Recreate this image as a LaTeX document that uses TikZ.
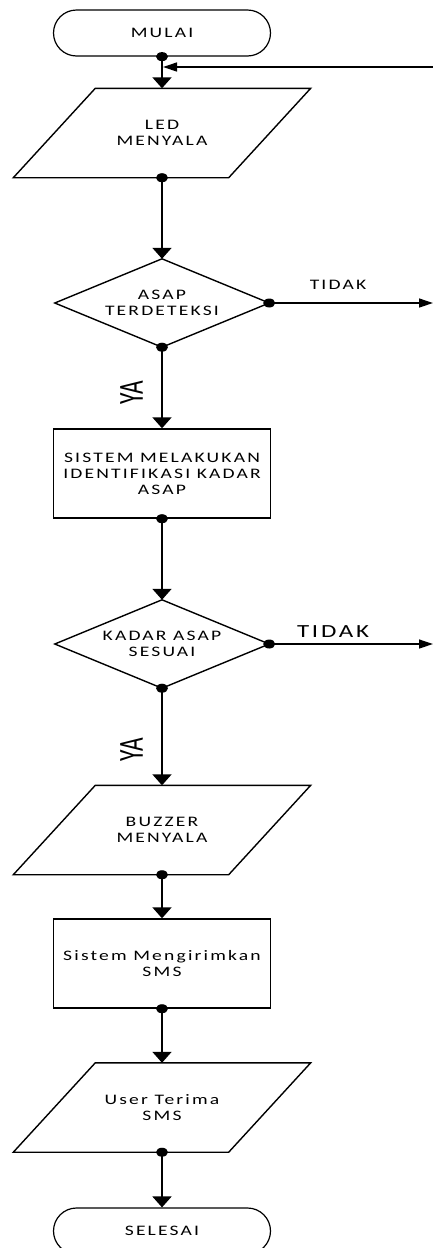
\documentclass[tikz,border=0pt]{standalone}
\usepackage{fontspec}
\setmainfont{Carlito}[FakeStretch=1.35,LetterSpace=15]
\newfontfamily\yafont{Carlito}
\usetikzlibrary{arrows.meta,shapes.misc,calc}
\begin{document}
\begin{tikzpicture}[x=1pt,y=-1pt,
  every node/.style={font=\fontsize{14.5}{16}\selectfont, align=center},
  term/.style={draw, rounded rectangle, line width=1.2pt, minimum width=217pt, minimum height=46pt, inner sep=0pt},
  procbox/.style={draw, line width=1.4pt, minimum width=217pt, minimum height=89pt, inner sep=0pt},
  parabox/.style={minimum width=215pt, minimum height=89pt, inner sep=0pt},
  diabox/.style={minimum width=214pt, minimum height=88pt, inner sep=0pt},
  outline/.style={line width=1.4pt, line join=miter},
  flow/.style={line width=2pt, -{Triangle[length=11pt,width=19pt]}},
  side/.style={line width=1.3pt, -{Triangle[length=14pt,width=9pt]}},
  yalabel/.style={rotate=90, inner sep=0pt}
]
\useasboundingbox (0,0) rectangle (433,1248);

% nodes
\node[term] (mulai) at (162,33) {MULAI};
\node[parabox] (led) at (162,133) {LED\\MENYALA};
\node[diabox] (asap) at (162,303) {ASAP\\TERDETEKSI};
\node[procbox] (sistem) at (162,473.5) {SISTEM MELAKUKAN\\IDENTIFIKASI KADAR\\ASAP};
\node[diabox] (kadar) at (162,644) {KADAR ASAP\\SESUAI};
\node[parabox] (buzzer) at (162,830) {BUZZER\\MENYALA};
\node[procbox] (sms) at (162,963.5) {Sistem Mengirimkan\\SMS};
\node[parabox] (user) at (162,1107.5) {User Terima\\SMS};
\node[term] (selesai) at (162,1231) {SELESAI};

% shape outlines
\foreach \n in {led,buzzer,user}{
  \draw[outline] ([xshift=41pt]\n.north west) -- ([xshift=41pt]\n.north east) -- ([xshift=-41pt]\n.south east) -- ([xshift=-41pt]\n.south west) -- cycle;
}
\foreach \n in {asap,kadar}{
  \draw[outline] (\n.north) -- (\n.east) -- (\n.south) -- (\n.west) -- cycle;
}

% labels
\node (tidak1) at (338,285) {TIDAK};
\node[font=\fontsize{18.5}{20}\selectfont] (tidak2) at (333,632) {TIDAK};
\node[yalabel] (ya1) at (131.5,393) {\scalebox{1}[1.5]{\yafont\fontsize{23.5}{24}\selectfont YA}};
\node[yalabel] (ya2) at (131.5,750) {\scalebox{1}[1.5]{\yafont\fontsize{23.5}{24}\selectfont YA}};

% connectors
\draw[flow] (mulai.south) -- (led.north);
\draw[flow] (led.south) -- (asap.north);
\draw[flow] (asap.south) -- (sistem.north);
\draw[flow] (sistem.south) -- (kadar.north);
\draw[flow] (kadar.south) -- (buzzer.north);
\draw[flow] (buzzer.south) -- (sms.north);
\draw[flow] (sms.south) -- (user.north);
\draw[flow] (user.south) -- (selesai.north);

\coordinate (loopR) at (433,67);
\coordinate (no1) at (433,303);
\coordinate (no2) at (433,644);
\draw[side] (loopR) -- ([xshift=1pt]loopR -| mulai.south);
\draw[side] (asap.east) -- (no1);
\draw[side] (kadar.east) -- (no2);

% junction dots
\foreach \p in {mulai.south,led.south,asap.south,asap.east,sistem.south,kadar.south,kadar.east,buzzer.south,sms.south,user.south}{
  \fill (\p) ellipse [x radius=6pt, y radius=4.5pt];
}
\end{tikzpicture}
\end{document}
